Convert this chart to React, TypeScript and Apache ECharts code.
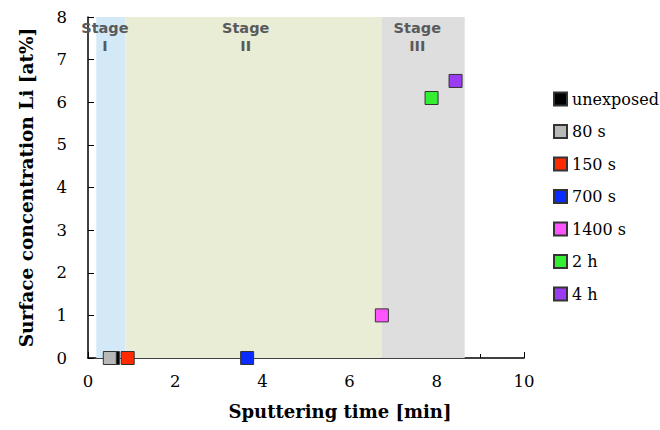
import React, { useEffect, useRef } from "react";
import * as echarts from "echarts";

const seriesNames = ["unexposed", "80 s", "150 s", "700 s", "1400 s", "2 h", "4 h"];
const seriesColors = ["#000000", "#b8b8b8", "#ff2a00", "#0b2cff", "#ff55ff", "#33ee33", "#9b3cf5"];
const sputterTimes = [0.57, 0.5, 0.91, 3.65, 6.74, 7.88, 8.43];
const liConcentration = [0, 0, 0, 0, 1.0, 6.1, 6.5];

const stageNames = ["Stage\nI", "Stage\nII", "Stage\nIII"];
const stageStarts = [0.19, 0.86, 6.74];
const stageEnds = [0.86, 6.74, 8.64];
const stageColors = ["#d3e9f8", "#e9edd5", "#dedede"];
const stageLabelShift = [-6, -8, -6];

const xTicks = [0, 2, 4, 6, 8, 10];
const yTicks = [0, 1, 2, 3, 4, 5, 6, 7, 8];

const SERIF = "DejaVu Serif";

export default function App() {
  const ref = useRef<HTMLDivElement>(null);
  useEffect(() => {
    if (!ref.current) return;
    const chart = echarts.init(ref.current, null, { renderer: "svg" });

    const bandSeries: any = {
      name: "stages",
      type: "scatter",
      data: [],
      silent: true,
      z: 1,
      markArea: {
        silent: true,
        data: stageNames.map((n, i) => [
          {
            name: n,
            xAxis: stageStarts[i],
            yAxis: yTicks[0],
            itemStyle: { color: stageColors[i], opacity: 1 },
            label: { offset: [stageLabelShift[i], 0] },
          },
          { xAxis: stageEnds[i], yAxis: yTicks[yTicks.length - 1] },
        ]),
        label: {
          show: true,
          position: "insideTop",
          distance: 2,
          fontFamily: "DejaVu Sans",
          fontWeight: "bold",
          fontSize: 14.5,
          lineHeight: 18,
          color: "#5a5a5a",
        },
      },
    };

    const pointSeries = seriesNames.map((name, i) => ({
      name,
      type: "scatter",
      symbol: "rect",
      symbolSize: 13,
      z: 3,
      itemStyle: { color: seriesColors[i], borderColor: "#333333", borderWidth: 1, opacity: 1 },
      data: [[sputterTimes[i], liConcentration[i]]],
    }));

    chart.setOption({
      animation: false,
      textStyle: { fontFamily: SERIF },
      grid: { left: 88, right: 136, top: 17, bottom: 72 },
      legend: {
        orient: "vertical",
        left: 548,
        top: 84,
        data: seriesNames,
        icon: "rect",
        itemWidth: 13,
        itemHeight: 13,
        itemGap: 12.5,
        itemStyle: { opacity: 1 },
        textStyle: { fontFamily: SERIF, fontSize: 16, color: "#000", lineHeight: 20 },
      },
      xAxis: {
        type: "value",
        min: xTicks[0],
        max: xTicks[xTicks.length - 1],
        interval: 2,
        name: "Sputtering time [min]",
        nameLocation: "middle",
        nameGap: 44,
        nameTextStyle: {
          fontFamily: SERIF,
          fontSize: 18,
          fontWeight: "bold",
          color: "#000",
          padding: [0, 0, 0, 68],
        },
        axisLine: { lineStyle: { color: "#000", width: 1.5 } },
        axisTick: { inside: true, length: 6, lineStyle: { color: "#000" } },
        minorTick: { show: true, splitNumber: 2, length: 4, lineStyle: { color: "#000" } },
        axisLabel: { fontFamily: SERIF, fontSize: 16.5, color: "#000", margin: 15 },
        splitLine: { show: false },
      },
      yAxis: {
        type: "value",
        min: yTicks[0],
        max: yTicks[yTicks.length - 1],
        interval: 1,
        name: "Surface concentration Li [at%]",
        nameLocation: "middle",
        nameGap: 52,
        nameTextStyle: {
          fontFamily: SERIF,
          fontSize: 18.5,
          fontWeight: "bold",
          color: "#000",
        },
        axisLine: { show: true, lineStyle: { color: "#000", width: 1.5 } },
        axisTick: { show: true, inside: true, length: 6, lineStyle: { color: "#000" } },
        axisLabel: { fontFamily: SERIF, fontSize: 16.5, color: "#000", margin: 21 },
        splitLine: { show: false },
      },
      series: [bandSeries, ...pointSeries],
    });

    return () => chart.dispose();
  }, []);

  return <div ref={ref} style={{ width: 660, height: 430, position: "absolute", left: 0, top: 0 }} />;
}
